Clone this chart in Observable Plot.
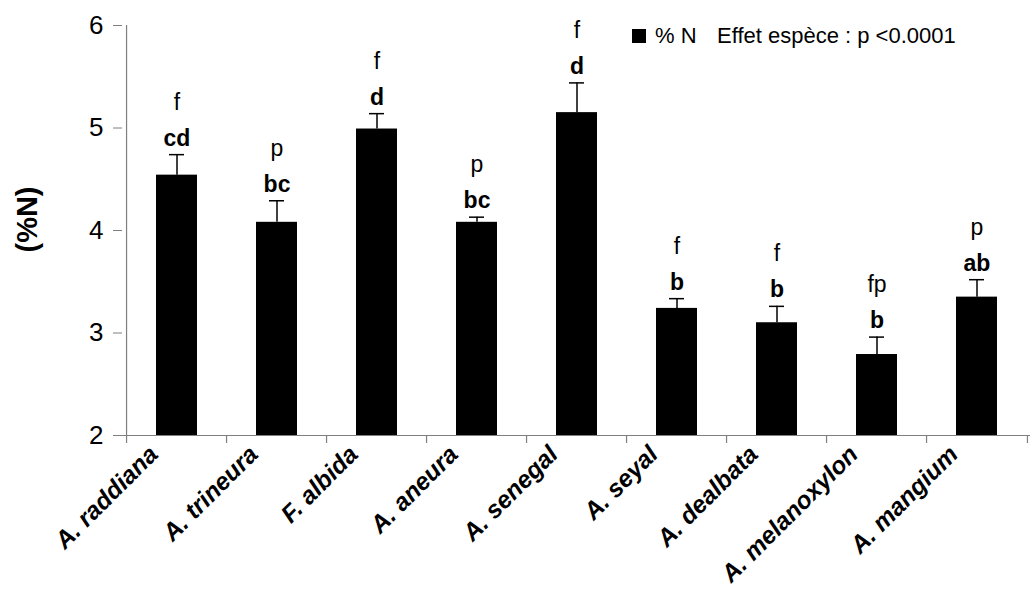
<!DOCTYPE html>
<html><head><meta charset="utf-8">
<script src="https://cdn.jsdelivr.net/npm/d3@7"></script>
<script src="https://cdn.jsdelivr.net/npm/@observablehq/plot@0.6"></script>
<style>
body{margin:0;background:#fff;font-family:'Liberation Sans',Arial,sans-serif;}
#wrap{position:relative;width:1036px;height:590px;}
svg{display:block}
.lg{position:absolute;font-size:22px;line-height:22px;color:#000;white-space:pre;}
</style>
</head><body><div id="wrap"></div>
<script>
const species = ["A. raddiana","A. trineura","F. albida","A. aneura","A. senegal","A. seyal","A. dealbata","A. melanoxylon","A. mangium"];
const nMean = [4.54, 4.08, 4.99, 4.08, 5.15, 3.24, 3.10, 2.79, 3.35];
const nSE = [0.20, 0.21, 0.15, 0.05, 0.29, 0.095, 0.16, 0.17, 0.17];
const groupLetters = ["cd","bc","d","bc","d","b","b","b","ab"];
const typeLetters = ["f","p","f","p","f","f","f","fp","p"];
const yTicks = [2,3,4,5,6];
const yLabel = "(%N)";
const legendSeries = "% N";
const legendNote = "Effet espèce : p <0.0001";

const data = species.map((s,i)=>({species:s, mean:nMean[i], top:nMean[i]+nSE[i], group:groupLetters[i], type:typeLetters[i]}));
const gray = "#7f7f7f";
const W = 1036, H = 590, ML = 122, MR = 6, MT = 25, MB = 155;
const step = (W - ML - MR) / species.length;

const chart = Plot.plot({
  width: W, height: H, marginLeft: ML, marginRight: MR, marginTop: MT, marginBottom: MB,
  style: {fontFamily: "'Liberation Sans', Arial, sans-serif", background: "#fff", color: "#000", overflow: "visible"},
  x: {domain: species, paddingInner: 0.59, paddingOuter: 0.295, axis: null},
  y: {domain: [2, 6]},
  marks: [
    Plot.barY(data, {x: "species", y1: 2, y2: "mean", fill: "#000"}),
    Plot.ruleX(data, {x: "species", y1: "mean", y2: "top", stroke: "#000", strokeWidth: 1.5}),
    Plot.tickY(data, {x: "species", y: "top", stroke: "#000", strokeWidth: 1.5, insetLeft: 13, insetRight: 13}),
    Plot.ruleY([2], {stroke: gray, strokeWidth: 1.2}),
    Plot.ruleX([species[0]], {x: d => d, y1: 2, y2: 6, dx: -step/2, stroke: gray, strokeWidth: 1.2}),
    Plot.ruleX(species, {x: d => d, y1: 2, y2: 2, insetBottom: -8, dx: -step/2, stroke: gray, strokeWidth: 1.2}),
    Plot.ruleX([species[species.length-1]], {x: d => d, y1: 2, y2: 2, insetBottom: -8, dx: step/2, stroke: gray, strokeWidth: 1.2}),
    Plot.axisY({ticks: yTicks, tickFormat: d => String(d), tickSize: 9, tickPadding: 10, fontSize: 26, stroke: gray, fill: "#000", label: null}),
    Plot.text(data, {x: "species", y: "top", text: "group", dy: -9, lineAnchor: "bottom", fontSize: 23, fontWeight: "bold", fill: "#000"}),
    Plot.text(data, {x: "species", y: "top", text: "type", dy: -45, lineAnchor: "bottom", fontSize: 23, fill: "#000"}),
    Plot.text(data, {x: "species", text: "species", frameAnchor: "bottom", rotate: -45, textAnchor: "end", lineAnchor: "top", dx: -30, dy: 8, fontSize: 24.5, fontWeight: "bold", fontStyle: "italic", fill: "#000"}),
    Plot.text([yLabel], {frameAnchor: "top-left", textAnchor: "middle", lineAnchor: "middle", rotate: -90, dx: -94.5, dy: 194, fontSize: 29, fontWeight: "bold", fill: "#000"})
  ]
});
const wrap = document.getElementById("wrap");
wrap.appendChild(chart);
const sq = document.createElement("div");
sq.style.cssText = "position:absolute;left:632px;top:29px;width:14px;height:14px;background:#000;";
wrap.appendChild(sq);
const t1 = document.createElement("div");
t1.className = "lg"; t1.style.left = "655px"; t1.style.top = "25px"; t1.textContent = legendSeries;
wrap.appendChild(t1);
const t2 = document.createElement("div");
t2.className = "lg"; t2.style.left = "717px"; t2.style.top = "25px"; t2.textContent = legendNote;
wrap.appendChild(t2);
</script>
</body></html>
